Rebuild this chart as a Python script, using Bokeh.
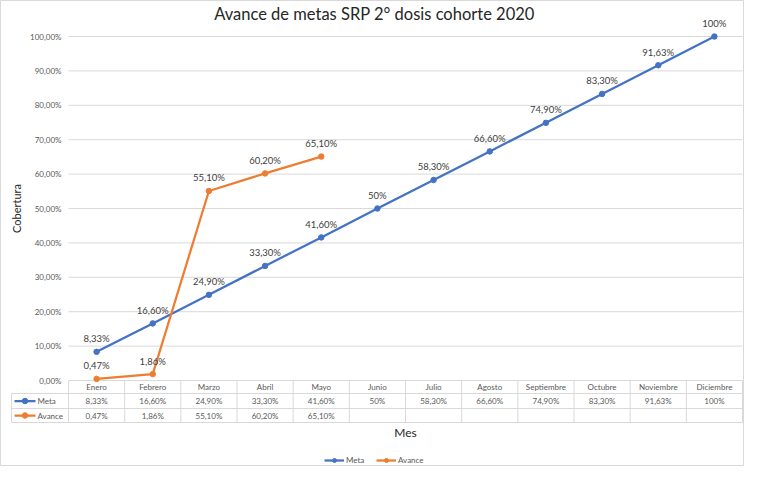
import math
from bokeh.plotting import figure
from bokeh.models import Range1d, Legend, LegendItem
from bokeh.embed import file_html
from bokeh.resources import INLINE
from bokeh.core.properties import value

# ---------------- data ----------------
title_text = "Avance de metas SRP 2° dosis cohorte 2020"
x_title = "Mes"
y_title = "Cobertura"
months = ["Enero", "Febrero", "Marzo", "Abril", "Mayo", "Junio", "Julio",
          "Agosto", "Septiembre", "Octubre", "Noviembre", "Diciembre"]
meta = [8.33, 16.60, 24.90, 33.30, 41.60, 50.0, 58.30, 66.60, 74.90, 83.30, 91.63, 100.0]
meta_labels = ["8,33%", "16,60%", "24,90%", "33,30%", "41,60%", "50%", "58,30%",
               "66,60%", "74,90%", "83,30%", "91,63%", "100%"]
avance = [0.47, 1.86, 55.10, 60.20, 65.10]
avance_labels = ["0,47%", "1,86%", "55,10%", "60,20%", "65,10%"]
y_ticks = [0, 10, 20, 30, 40, 50, 60, 70, 80, 90, 100]
y_tick_labels = ["0,00%", "10,00%", "20,00%", "30,00%", "40,00%", "50,00%",
                 "60,00%", "70,00%", "80,00%", "90,00%", "100,00%"]
series_names = ["Meta", "Avance"]

# ---------------- style / layout ----------------
BLUE = "#4472C4"
ORANGE = "#ED7D31"
GRID = "#d9d9d9"
TXT = "#404040"
TICK = "#595959"
DARK = "#262626"
FONT = "Lato"

W, H = 744, 466
PLOT_L, PLOT_R = 68, 742          # plot area, px from left
PLOT_T, PLOT_B = 36, 380          # plot area, px from top (100% and 0%)
n = len(months)
col_px = (PLOT_R - PLOT_L) / n
pct_px = (PLOT_B - PLOT_T) / (y_ticks[-1] - y_ticks[0])

x_start = -PLOT_L / col_px
x_end = (W - PLOT_L) / col_px
y_start = -(H - PLOT_B) / pct_px
y_end = y_ticks[-1] + PLOT_T / pct_px


def px_x(px):
    """column coordinate of a pixel column of the figure"""
    return x_start + px / col_px


p = figure(width=W, height=H, x_range=Range1d(x_start, x_end),
           y_range=Range1d(y_start, y_end),
           x_axis_location=None, y_axis_location=None,
           output_backend="svg", toolbar_location=None, min_border=0)
p.extra_x_ranges = {"px": Range1d(0, W)}
p.extra_y_ranges = {"px": Range1d(H, 0)}
p.grid.visible = False
p.outline_line_color = GRID
p.outline_line_width = 1

xc = [i + 0.5 for i in range(n)]
xa = xc[:len(avance)]

# horizontal gridlines
p.segment(x0=[0] * len(y_ticks), x1=[n] * len(y_ticks), y0=y_ticks, y1=y_ticks,
          line_color=GRID, line_width=1)
# y tick labels
p.text(x=[0] * len(y_ticks), y=y_ticks, text=y_tick_labels, x_offset=-7,
       text_align="right", text_baseline="middle", text_font=value(FONT),
       text_font_size=value("8px"), text_color=TICK)

# series
p.line(xc, meta, line_color=BLUE, line_width=2.25)
p.scatter(xc, meta, size=5.5, fill_color=BLUE, line_color=BLUE)
p.line(xa, avance, line_color=ORANGE, line_width=2.25)
p.scatter(xa, avance, size=5.5, fill_color=ORANGE, line_color=ORANGE)

lbl = dict(text_align="center", text_baseline="middle", y_offset=-13,
           text_font=value(FONT), text_font_size=value("9.5px"), text_color=TXT)
p.text(x=xc, y=meta, text=meta_labels, **lbl)
p.text(x=xa, y=avance, text=avance_labels, **lbl)

# title and axis titles
p.text(x=[374], y=[13], text=[title_text], x_range_name="px", y_range_name="px",
       text_align="center", text_baseline="middle", text_font=value(FONT),
       text_font_size=value("16.5px"), text_color=DARK)
p.text(x=[16], y=[208], text=[y_title], x_range_name="px", y_range_name="px",
       angle=math.pi / 2, text_align="center", text_baseline="middle",
       text_font=value(FONT), text_font_size=value("11px"), text_color=DARK)
p.text(x=[(PLOT_L + PLOT_R) / 2], y=[432], text=[x_title], x_range_name="px",
       y_range_name="px", text_align="center", text_baseline="middle",
       text_font=value(FONT), text_font_size=value("12px"), text_color=DARK)

# ---------------- data table ----------------
b_top, b_head, b_meta, b_av = PLOT_B, PLOT_B + 13, PLOT_B + 28, PLOT_B + 42
lab_x0 = px_x(11)
row_head = (b_top + b_head) / 2
row_meta = (b_head + b_meta) / 2
row_av = (b_meta + b_av) / 2

p.segment(x0=[lab_x0] * 3, x1=[n] * 3, y0=[b_head, b_meta, b_av], y1=[b_head, b_meta, b_av],
          y_range_name="px", line_color=GRID, line_width=1)
vx = list(range(n + 1))
p.segment(x0=vx, x1=vx, y0=[b_top] * (n + 1), y1=[b_av] * (n + 1), y_range_name="px",
          line_color=GRID, line_width=1)
p.segment(x0=[lab_x0], x1=[lab_x0], y0=[b_head], y1=[b_av], y_range_name="px",
          line_color=GRID, line_width=1)

cell = dict(y_range_name="px", text_align="center", text_baseline="middle",
            text_font=value(FONT), text_font_size=value("8px"), text_color=TICK)
p.text(x=xc, y=[row_head] * n, text=months, **cell)
p.text(x=xc, y=[row_meta] * n, text=meta_labels, **cell)
p.text(x=xa, y=[row_av] * len(avance), text=avance_labels, **cell)

k0, k1 = px_x(14), px_x(35)
km = (k0 + k1) / 2
kl_m = p.segment(x0=[k0], x1=[k1], y0=[row_meta], y1=[row_meta], y_range_name="px",
                 line_color=BLUE, line_width=2.25)
kd_m = p.scatter(x=[km], y=[row_meta], y_range_name="px", size=5.5,
                 fill_color=BLUE, line_color=BLUE)
kl_a = p.segment(x0=[k0], x1=[k1], y0=[row_av], y1=[row_av], y_range_name="px",
                 line_color=ORANGE, line_width=2.25)
kd_a = p.scatter(x=[km], y=[row_av], y_range_name="px", size=5.5,
                 fill_color=ORANGE, line_color=ORANGE)
p.text(x=[px_x(37)] * 2, y=[row_meta, row_av], text=series_names, y_range_name="px",
       text_align="left", text_baseline="middle", text_font=value(FONT),
       text_font_size=value("8px"), text_color=TICK)

# ---------------- legend ----------------
legend = Legend(items=[LegendItem(label=series_names[0], renderers=[kl_m, kd_m]),
                       LegendItem(label=series_names[1], renderers=[kl_a, kd_a])],
                orientation="horizontal", location=(324, 1))
legend.border_line_color = None
legend.background_fill_alpha = 0
legend.padding = 0
legend.margin = 0
legend.spacing = 10
legend.glyph_width = 20
legend.glyph_height = 10
legend.label_standoff = 2
legend.label_text_font = FONT
legend.label_text_font_size = "8px"
legend.label_text_color = TICK
legend.label_height = 10
p.add_layout(legend)

open("out.html", "w").write(file_html(p, INLINE))
